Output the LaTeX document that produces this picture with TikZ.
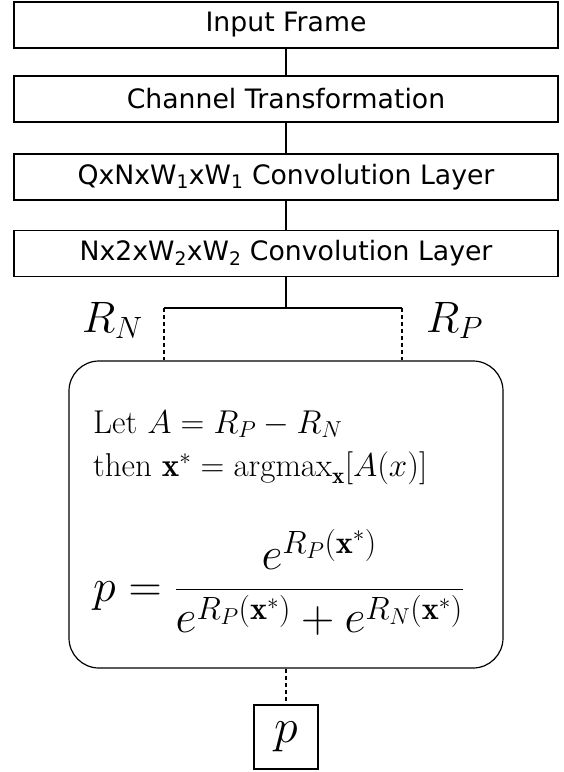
\RequirePackage{fix-cm}
\documentclass[tikz,border=0pt]{standalone}
\usepackage{fontspec}
\newfontfamily\boxfont{DejaVu Sans}

\tikzset{
	layer/.style={draw, black, line width=1.2pt, minimum width=544pt, minimum height=46pt, inner sep=0pt, font=\boxfont\fontsize{26.7}{30}\selectfont},
	link/.style={black, line width=2.5pt},
	branch/.style={black, line width=2pt, dash pattern=on 4pt off 3pt},
	mathlabel/.style={inner sep=0pt, font=\fontsize{44}{50}\selectfont},
	mathtext/.style={anchor=base west, inner sep=0pt, font=\fontsize{33}{43}\selectfont},
}

\begin{document}
\begin{tikzpicture}[x=1pt,y=1pt]
	\useasboundingbox (0,0) rectangle (563,-772);
	
	\node[layer] (input) at (286,-25) {Input Frame};
	\node[layer] (channel) at (286,-99) {Channel Transformation};
	\node[layer] (convq) at (286,-177) {QxNxW\textsubscript{1}xW\textsubscript{1} Convolution Layer};
	\node[layer] (convn) at (286,-253.5) {Nx2xW\textsubscript{2}xW\textsubscript{2} Convolution Layer};
	\draw[link] (input) -- (channel);
	\draw[link] (channel) -- (convq);
	\draw[link] (convq) -- (convn);
	
	\coordinate (split) at (286,-308);
	\coordinate (neg) at (164,-308);
	\coordinate (pos) at (402,-308);
	\draw[black, line width=1.5pt] (convn) -- (split);
	\draw[black, line width=2pt] (neg) -- (pos);
	
	\node[draw, black, rounded corners=30pt, line width=1.2pt, minimum width=434pt, minimum height=307pt] (calc) at (286,-514.5) {};
	\draw[branch] (neg) -- (neg |- calc.north);
	\draw[branch] (pos) -- (pos |- calc.north);
	\node[mathlabel, anchor=base east] (rn) at (143,-332) {$R_N$};
	\node[mathlabel, anchor=base west] (rp) at (426,-332) {$R_P$};
	
	\node[mathtext] (let) at (93,-433) {Let $A = R_P - R_N$};
	\node[mathtext] (then) at (93,-476) {then $\mathbf{x}^* = \mathrm{argmax}_{\mathbf{x}}[A(x)]$};
	\node[anchor=base west, inner sep=0pt, font=\fontsize{46}{50}\selectfont] (prob) at (93,-601) {$\displaystyle p = \frac{e^{R_P(\mathbf{x}^*)}}{e^{R_P(\mathbf{x}^*)}+e^{R_N(\mathbf{x}^*)}}$};
	
	\node[draw, black, line width=1.2pt, minimum size=64pt, inner sep=0pt, font=\fontsize{48}{50}\selectfont] (out) at (286,-737) {$p$};
	\draw[branch] (calc) -- (out);
	
\end{tikzpicture}
\end{document}
